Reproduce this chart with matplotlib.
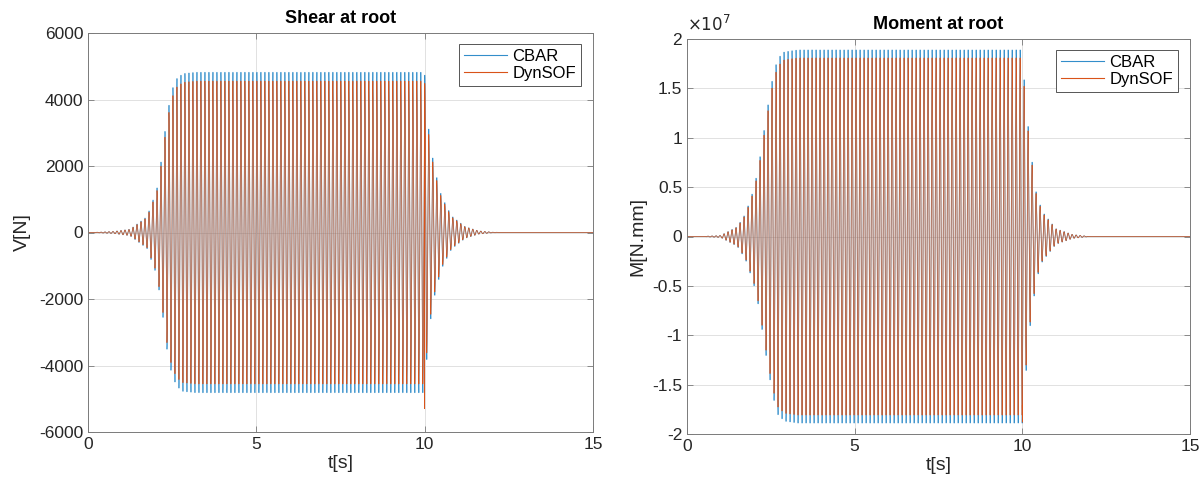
import numpy as np
import matplotlib
matplotlib.use("Agg")
import matplotlib.pyplot as plt
from matplotlib.ticker import FuncFormatter

plt.rcParams['font.family'] = ['Liberation Sans', 'DejaVu Sans']
plt.rcParams['axes.unicode_minus'] = False

# ---------------- data ----------------
shear_freq_hz = 8.42      # apparent oscillation frequency (shear panel)
moment_freq_hz = 8.38     # apparent oscillation frequency (moment panel)
t_end = 15.0

# Shear at root: envelope of oscillation [N]
shear_env_t = [0.0, 0.3, 0.75, 1.25, 1.75, 2.04, 2.2, 2.34, 2.49, 2.64, 2.82, 3.2,
               10.0, 10.05, 10.15, 10.3, 10.5, 10.8, 11.2, 11.6, 12.0, 12.5, 15.0]
shear_cbar_env = [0, 10, 30, 100, 480, 1280, 2330, 3480, 4280, 4630, 4780, 4820,
                  4820, 4000, 2800, 1900, 1100, 500, 180, 50, 10, 0, 0]
shear_dyn_ratio = 0.945
shear_spike = (10.0, -5300)

# Moment at root: envelope of oscillation [N.mm]
moment_env_t = [0.0, 0.5, 1.0, 1.5, 1.74, 1.98, 2.13, 2.25, 2.4, 2.55, 2.7, 2.9, 3.3,
                10.0, 10.05, 10.12, 10.21, 10.42, 10.6, 11.0, 11.5, 12.0, 15.0]
moment_cbar_env = [0, 0.002e7, 0.01e7, 0.1e7, 0.23e7, 0.47e7, 0.7e7, 0.97e7, 1.3e7, 1.6e7,
                   1.8e7, 1.87e7, 1.89e7, 1.89e7, 1.6e7, 1.33e7, 0.96e7, 0.43e7, 0.25e7,
                   0.08e7, 0.02e7, 0.0, 0.0]
moment_dyn_ratio = 0.957
moment_spike = (10.0, -1.88e7)

series_names = ['CBAR', 'DynSOF']
c_blue = (0.0, 0.447, 0.741)
c_orange = (0.85, 0.325, 0.098)

# ---------------- build signals ----------------
t = np.arange(0.0, t_end + 1e-9, 0.0005)

def signal(env_t, env_v, freq, phase, scale=1.0):
    env = np.interp(t, env_t, env_v) * scale
    return env * np.sin(2 * np.pi * freq * t + phase)

shear_cbar = signal(shear_env_t, shear_cbar_env, shear_freq_hz, 0.0)
shear_dyn = signal(shear_env_t, shear_cbar_env, shear_freq_hz, 0.05, shear_dyn_ratio)
moment_cbar = signal(moment_env_t, moment_cbar_env, moment_freq_hz, 0.0)
moment_dyn = signal(moment_env_t, moment_cbar_env, moment_freq_hz, 0.05, moment_dyn_ratio)

def add_spike(tt, yy, spike):
    i = np.searchsorted(tt, spike[0])
    return np.insert(tt, i, spike[0]), np.insert(yy, i, spike[1])

t_sd, shear_dyn = add_spike(t, shear_dyn, shear_spike)
t_md, moment_dyn = add_spike(t, moment_dyn, moment_spike)

# ---------------- figure ----------------
fig = plt.figure(figsize=(12.04, 4.84), dpi=100)
ax1 = fig.add_axes([88/1204, 1-432/484, (593-88)/1204, (432-33)/484])
ax2 = fig.add_axes([687/1204, 1-434/484, (1190-687)/1204, (434-39)/484])

dark = '#262626'

def style(ax):
    ax.grid(True, color='#dcdcdc', linewidth=0.6)
    ax.set_axisbelow(True)
    for s in ax.spines.values():
        s.set_color('#7a7a7a')
        s.set_linewidth(0.7)
    ax.tick_params(direction='in', top=True, right=True, length=4, width=0.6,
                   colors='#7a7a7a', labelcolor=dark, labelsize=12.5)
    ax.set_xlim(0, 15)
    ax.set_xticks([0, 5, 10, 15])

lw = 0.5
ax1.plot(t, shear_cbar, color=c_blue, lw=lw, alpha=0.8, label=series_names[0])
ax1.plot(t_sd, shear_dyn, color=c_orange, lw=lw, label=series_names[1])
style(ax1)
ax1.set_ylim(-6000, 6000)
ax1.set_yticks(np.arange(-6000, 6001, 2000))
ax1.set_title('Shear at root', fontsize=13, fontweight='bold', color='black', pad=7)
ax1.set_xlabel('t[s]', fontsize=14, color=dark, labelpad=2)
ax1.set_ylabel('V[N]', fontsize=14, color=dark, labelpad=6)

ax2.plot(t, moment_cbar, color=c_blue, lw=lw, alpha=0.8, label=series_names[0])
ax2.plot(t_md, moment_dyn, color=c_orange, lw=lw, label=series_names[1])
style(ax2)
ax2.set_ylim(-2e7, 2e7)
ax2.set_yticks(np.arange(-2e7, 2.01e7, 0.5e7))
ax2.yaxis.set_major_formatter(FuncFormatter(lambda v, p: ('%g' % (v / 1e7))))
ax2.text(0.0, 1.012, r'$\times10^{7}$', transform=ax2.transAxes, fontsize=12,
         color=dark, ha='left', va='bottom')
ax2.set_title('Moment at root', fontsize=13, fontweight='bold', color='black', pad=7)
ax2.set_xlabel('t[s]', fontsize=14, color=dark, labelpad=2)
ax2.set_ylabel('M[N.mm]', fontsize=14, color=dark, labelpad=4)

for ax in (ax1, ax2):
    leg = ax.legend(loc='upper right', bbox_to_anchor=(0.976, 0.972), borderaxespad=0,
                    fancybox=False, framealpha=1, edgecolor='#555555', fontsize=12,
                    handlelength=2.6, handletextpad=0.3, borderpad=0.3, labelspacing=0.1)
    leg.get_frame().set_linewidth(0.7)
    for h in leg.get_lines():
        h.set_linewidth(0.8)

fig.savefig('out.png', dpi=100)
